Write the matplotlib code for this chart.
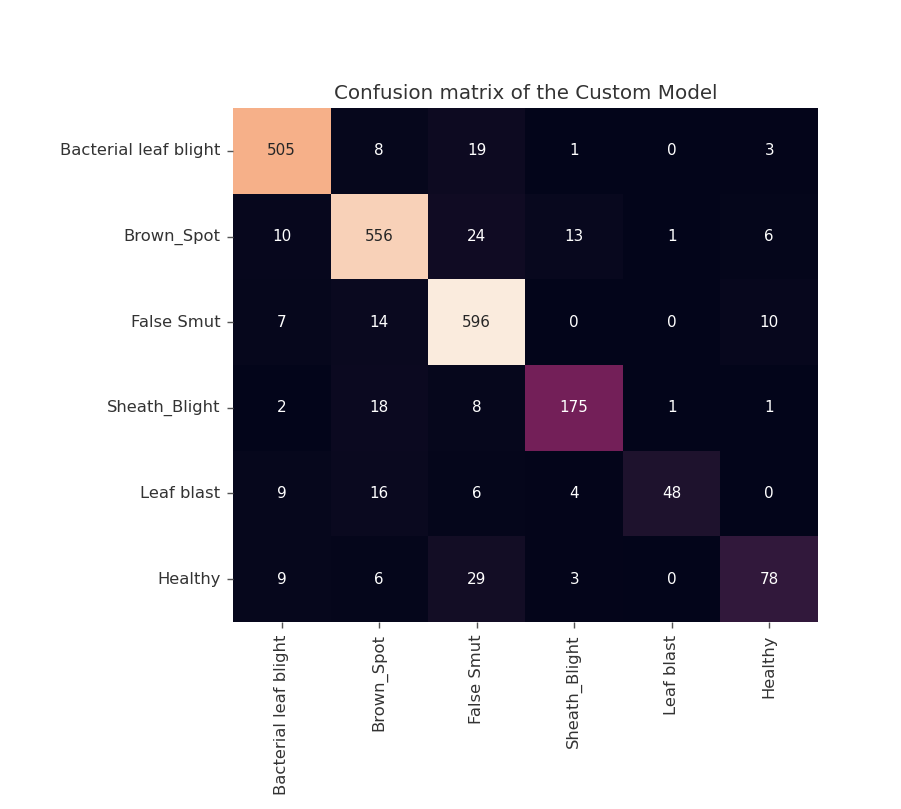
import numpy as np
import matplotlib
matplotlib.use('Agg')
import matplotlib.pyplot as plt
import seaborn as sns

labels = ['Bacterial leaf blight', 'Brown_Spot', 'False Smut',
          'Sheath_Blight', 'Leaf blast', 'Healthy']

row_blb = [505, 8, 19, 1, 0, 3]
row_brown = [10, 556, 24, 13, 1, 6]
row_smut = [7, 14, 596, 0, 0, 10]
row_sheath = [2, 18, 8, 175, 1, 1]
row_blast = [9, 16, 6, 4, 48, 0]
row_healthy = [9, 6, 29, 3, 0, 78]

cm = np.array([row_blb, row_brown, row_smut, row_sheath, row_blast, row_healthy])

dpi = 128
fig = plt.figure(figsize=(901 / dpi, 809 / dpi), dpi=dpi)
ax = fig.add_axes([233 / 901, 1 - 622 / 809, (818 - 233) / 901, (622 - 108) / 809])

sns.heatmap(cm, annot=True, fmt='d', cbar=False, cmap='rocket',
            annot_kws={'fontsize': 8.5},
            xticklabels=labels, yticklabels=labels, ax=ax)
ax.set_title('Confusion matrix of the Custom Model', fontsize=11.2, pad=5,
             color='#333333')
ax.tick_params(axis='both', labelsize=9.2, labelcolor='#333333', color='#555555')
plt.setp(ax.get_xticklabels(), rotation=90)
plt.setp(ax.get_yticklabels(), rotation=0)

fig.savefig('out.png', dpi=dpi)
